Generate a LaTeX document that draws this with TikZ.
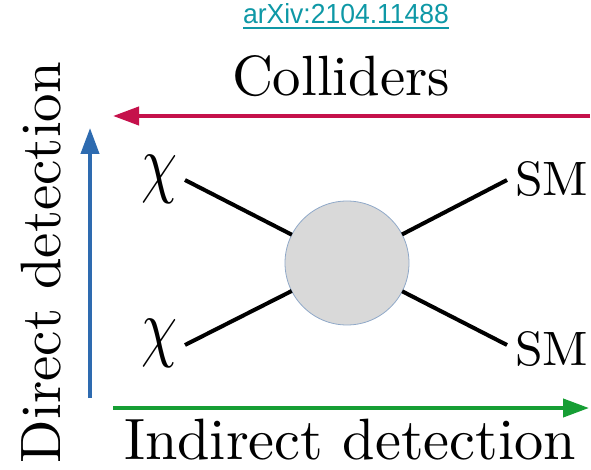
\documentclass[tikz,border=0pt]{standalone}
\usepackage{fontspec}
\usepackage{graphicx}
\newfontfamily\linkfont{Liberation Sans}
\usetikzlibrary{arrows.meta}
\definecolor{linkteal}{RGB}{14,152,166}
\definecolor{colred}{RGB}{197,17,75}
\definecolor{dirblue}{RGB}{46,107,176}
\definecolor{indgreen}{RGB}{22,158,52}
\definecolor{blobfill}{RGB}{217,217,217}
\definecolor{blobedge}{RGB}{143,168,200}
\begin{document}
\begin{tikzpicture}[x=1pt,y=-1pt,
  lbl/.style={inner sep=0pt, outer sep=0pt},
  axisarrow/.style={line width=4pt, -{Triangle[length=26pt,width=18pt]}},
  leg/.style={line width=4pt}]
\useasboundingbox (0,0) rectangle (591,470);
% link
\node[lbl, anchor=south west, text=linkteal] (link) at (243,24) {\resizebox{206pt}{20pt}{\linkfont arXiv:2104.11488}};
\draw[linkteal, line width=2.5pt] ([yshift=-4pt]link.south west) -- ([yshift=-4pt]link.south east);
% axes
\coordinate (rS) at (590,116); \coordinate (rE) at (113,116);
\coordinate (bS) at (90,398);  \coordinate (bE) at (90,128);
\coordinate (gS) at (113,408); \coordinate (gE) at (589,408);
\draw[axisarrow, colred] (rS) -- (rE);
\draw[axisarrow, dirblue] (bS) -- (bE);
\draw[axisarrow, indgreen] (gS) -- (gE);
% axis labels
\node[lbl, anchor=south west] (coll) at (232,97) {\resizebox{218pt}{!}{Colliders}};
\node[lbl, anchor=south west] (ind) at (124,460) {\resizebox{452pt}{!}{Indirect detection}};
\node[lbl, anchor=south west, rotate=90] (dir) at (61,463) {\resizebox{401pt}{!}{Direct detection}};
% blob and legs
\node[circle, fill=blobfill, draw=blobedge, line width=0.8pt, minimum size=124pt, inner sep=0pt, outer sep=0pt] (blob) at (347,263) {};
\coordinate (a1) at (185,180);
\coordinate (a2) at (185,345);
\coordinate (b1) at (507,180);
\coordinate (b2) at (507,345);
\draw[leg] (a1) -- (blob);
\draw[leg] (a2) -- (blob);
\draw[leg] (b1) -- (blob);
\draw[leg] (b2) -- (blob);
% particle labels
\node[lbl] (x1) at (160,179) {\resizebox*{36pt}{48pt}{$\chi$}};
\node[lbl] (x2) at (160,343) {\resizebox*{36pt}{48pt}{$\chi$}};
\node[lbl, anchor=south west] (s1) at (515,197) {\resizebox{73pt}{34pt}{SM}};
\node[lbl, anchor=south west] (s2) at (515,367) {\resizebox{73pt}{34pt}{SM}};
\end{tikzpicture}
\end{document}
